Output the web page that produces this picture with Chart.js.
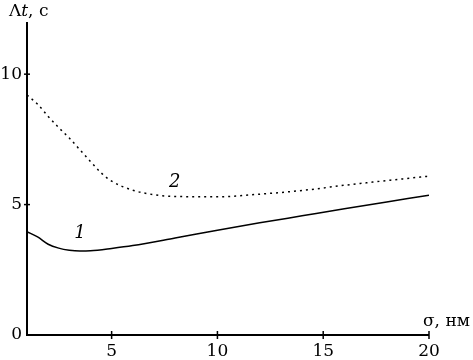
<!DOCTYPE html>
<html>
<head>
<meta charset="utf-8">
<script src="https://cdn.jsdelivr.net/npm/chart.js@4"></script>
<style>
  html, body { margin: 0; padding: 0; background: #fff; }
  #wrap { width: 473px; height: 360px; }
</style>
</head>
<body>
<div id="wrap"><canvas id="chart" width="473" height="360"></canvas></div>
<script>
const x1 = [1, 1.5, 2, 2.5, 3, 3.5, 4, 5, 6, 8, 10, 12, 14, 16, 18, 20];
const y1 = [3.96, 3.76, 3.48, 3.33, 3.25, 3.22, 3.23, 3.32, 3.43, 3.72, 4.02, 4.3, 4.57, 4.84, 5.1, 5.36];
const x2 = [1, 1.5, 2, 2.5, 3, 3.5, 4, 4.5, 5, 6, 7, 8, 10, 12, 14, 16, 18, 20];
const y2 = [9.2, 8.85, 8.38, 7.95, 7.55, 7.1, 6.65, 6.22, 5.9, 5.55, 5.38, 5.31, 5.30, 5.40, 5.54, 5.74, 5.92, 6.09];
const xTicks = [5, 10, 15, 20];
const yTicks = [0, 5, 10];
const curveNames = ['1', '2'];
const curveLabelAt = [[3.5, 3.9], [7.98, 5.86]];

const serif = '"DejaVu Serif", "Liberation Serif", serif';

const axisMarks = {
  id: 'axisMarks',
  afterDraw(chart) {
    const c = chart.ctx;
    const xs = chart.scales.x, ys = chart.scales.y;
    const a = chart.chartArea;
    c.save();
    c.strokeStyle = '#000';
    c.lineWidth = 2;
    c.beginPath();
    c.moveTo(a.left, a.top);
    c.lineTo(a.left, a.bottom);
    c.lineTo(xs.getPixelForValue(20), a.bottom);
    c.stroke();
    c.lineWidth = 1.5;
    xTicks.forEach(v => {
      const p = xs.getPixelForValue(v);
      c.beginPath(); c.moveTo(p, a.bottom - 4); c.lineTo(p, a.bottom + 4); c.stroke();
    });
    yTicks.forEach(v => {
      if (v === 0) return;
      const p = ys.getPixelForValue(v);
      c.beginPath(); c.moveTo(a.left - 3, p); c.lineTo(a.left + 3, p); c.stroke();
    });
    // curve numbers
    c.fillStyle = '#000';
    c.font = 'italic 18px ' + serif;
    c.textAlign = 'center';
    c.textBaseline = 'middle';
    curveNames.forEach((n, i) => {
      c.fillText(n, xs.getPixelForValue(curveLabelAt[i][0]), ys.getPixelForValue(curveLabelAt[i][1]));
    });
    // axis titles
    c.textAlign = 'left';
    c.textBaseline = 'alphabetic';
    let px = 9, py = 16;
    c.font = '17px ' + serif;
    c.fillText('Λ', px, py); px += c.measureText('Λ').width;
    c.font = 'italic 17px ' + serif;
    c.fillText('t', px, py); px += c.measureText('t').width;
    c.font = '17px ' + serif;
    c.fillText(', с', px, py);
    c.fillText('σ, нм', 423, 326);
    c.restore();
  }
};

new Chart(document.getElementById('chart'), {
  type: 'line',
  data: {
    datasets: [
      {
        data: x1.map((x, i) => ({ x: x, y: y1[i] })),
        borderColor: '#000',
        borderWidth: 1.5,
        pointRadius: 0,
        cubicInterpolationMode: 'monotone',
        fill: false
      },
      {
        data: x2.map((x, i) => ({ x: x, y: y2[i] })),
        borderColor: '#000',
        borderWidth: 1.5,
        borderDash: [2, 4],
        pointRadius: 0,
        cubicInterpolationMode: 'monotone',
        fill: false
      }
    ]
  },
  options: {
    responsive: false,
    animation: false,
    layout: { padding: { top: 22, right: 44, bottom: 0, left: 0 } },
    plugins: { legend: { display: false }, tooltip: { enabled: false } },
    scales: {
      x: {
        type: 'linear',
        min: 1,
        max: 20,
        afterBuildTicks: s => { s.ticks = xTicks.map(v => ({ value: v })); },
        afterFit: s => { s.height = 25; },
        border: { display: false },
        grid: { display: false, drawTicks: false },
        ticks: { color: '#000', font: { family: serif, size: 17 }, padding: 6, maxRotation: 0 }
      },
      y: {
        min: 0,
        max: 12,
        afterBuildTicks: s => { s.ticks = yTicks.map(v => ({ value: v })); },
        afterFit: s => { s.width = 27; },
        border: { display: false },
        grid: { display: false, drawTicks: false },
        ticks: { color: '#000', font: { family: serif, size: 17 }, padding: 5 }
      }
    }
  },
  plugins: [axisMarks]
});
</script>
</body>
</html>
